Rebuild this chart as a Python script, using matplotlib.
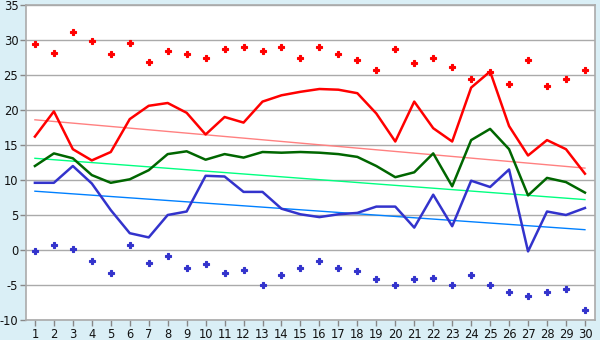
import matplotlib
matplotlib.use("Agg")
import matplotlib.pyplot as plt
import numpy as np

plt.rcParams["axes.unicode_minus"] = False

days = list(range(1, 31))
red_line = [16.2, 19.8, 14.4, 12.8, 14.0, 18.7, 20.6, 21.0, 19.6, 16.5,
            19.0, 18.2, 21.2, 22.1, 22.6, 23.0, 22.9, 22.4, 19.5, 15.5,
            21.2, 17.4, 15.5, 23.2, 25.5, 17.7, 13.5, 15.7, 14.4, 10.9]
green_line = [12.0, 13.8, 13.1, 10.7, 9.6, 10.1, 11.4, 13.7, 14.1, 12.9,
              13.7, 13.2, 14.0, 13.9, 14.0, 13.9, 13.7, 13.3, 12.0, 10.4,
              11.1, 13.8, 9.1, 15.7, 17.3, 14.4, 7.8, 10.3, 9.7, 8.2]
blue_line = [9.6, 9.6, 12.0, 9.5, 5.7, 2.4, 1.8, 5.0, 5.5, 10.6,
             10.5, 8.3, 8.3, 5.9, 5.1, 4.7, 5.1, 5.3, 6.2, 6.2,
             3.2, 7.9, 3.4, 9.9, 9.0, 11.5, -0.2, 5.5, 5.0, 6.0]
red_points = [29.5, 28.1, 31.2, 29.8, 28.0, 29.6, 26.8, 28.4, 28.0, 27.5,
              28.7, 29.0, 28.4, 29.0, 27.4, 29.0, 28.0, 27.1, 25.7, 28.7,
              26.7, 27.5, 26.2, 24.5, 25.4, 23.7, 27.2, 23.4, 24.5, 25.7]
blue_points = [-0.2, 0.7, 0.1, -1.6, -3.3, 0.7, -1.9, -0.8, -2.5, -2.0,
               -3.3, -2.9, -5.0, -3.6, -2.5, -1.6, -2.6, -3.0, -4.2, -5.0,
               -4.2, -4.0, -5.0, -3.6, -5.0, -6.0, -6.6, -6.0, -5.6, -8.6]
trend_x = [1, 30]
red_trend = [18.6, 11.7]
green_trend = [13.1, 7.2]
blue_trend = [8.4, 2.9]
y_ticks = [-10, -5, 0, 5, 10, 15, 20, 25, 30, 35]

bg = "#daeff6"
fig = plt.figure(figsize=(6, 3.4), dpi=100, facecolor=bg)
ax = fig.add_axes([26/600, 20/340, 569/600, 315/340])
ax.set_facecolor("white")

ax.plot(trend_x, red_trend, color="#ff8080", lw=1.0, zorder=2)
ax.plot(trend_x, green_trend, color="#00ff80", lw=1.0, zorder=2)
ax.plot(trend_x, blue_trend, color="#0080ff", lw=1.0, zorder=2)
ax.plot(days, red_line, color="#ff0000", lw=1.8, zorder=3)
ax.plot(days, green_line, color="#006600", lw=1.8, zorder=3)
ax.plot(days, blue_line, color="#3333cc", lw=1.8, zorder=3)
ax.plot(days, red_points, ls="none", marker="P", ms=4.2, color="#ff0000",
        mec="#ff0000", mew=0.8, zorder=4)
ax.plot(days, blue_points, ls="none", marker="P", ms=4.2, color="#3333cc",
        mec="#3333cc", mew=0.8, zorder=4)

ax.set_xlim(0.53, 30.53)
ax.set_ylim(-10, 35)
ax.set_yticks(y_ticks)
ax.set_xticks(days)
ax.grid(axis="y", color="#aaaaaa", lw=1.0)
ax.set_axisbelow(True)
for s in ax.spines.values():
    s.set_color("#aaaaaa")
    s.set_linewidth(1.2)
ax.tick_params(axis="both", colors="#888888", labelcolor="#111111",
               labelsize=8.3, length=4, width=1)
ax.tick_params(axis="y", pad=1.5)
ax.tick_params(axis="x", pad=2)
fig.savefig("out.png", dpi=100, facecolor=bg)
